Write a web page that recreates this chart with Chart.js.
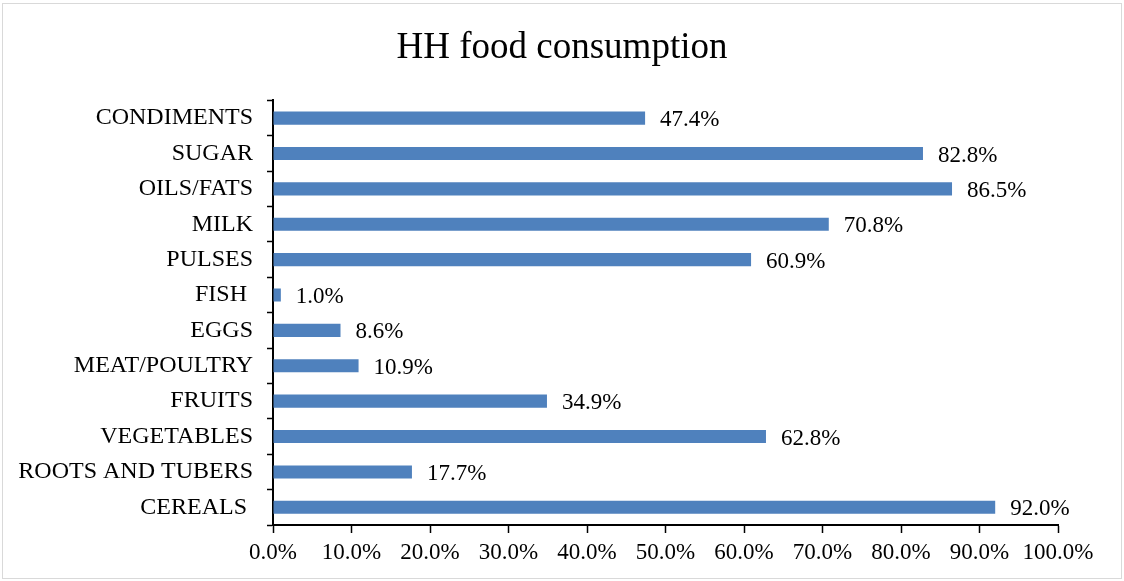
<!DOCTYPE html>
<html lang="en">
<head>
    <meta charset="UTF-8">
    <title>HH food consumption</title>
    <script src="https://cdn.jsdelivr.net/npm/chart.js"></script>
    <style>
        html, body {
            margin: 0;
            padding: 0;
            background: #fff;
        }
        canvas {
            display: block;
        }
    </style>
</head>
<body>
    <canvas id="chart" width="1124" height="581"></canvas>

    <script>
        // данные с картинки (сверху вниз)
        const categories = ["CONDIMENTS", "SUGAR", "OILS/FATS", "MILK", "PULSES", "FISH ", "EGGS",
            "MEAT/POULTRY", "FRUITS", "VEGETABLES", "ROOTS AND TUBERS", "CEREALS "];
        const shares = [47.4, 82.8, 86.5, 70.8, 60.9, 1.0, 8.6, 10.9, 34.9, 62.8, 17.7, 92.0];
        const xTicks = [0, 10, 20, 30, 40, 50, 60, 70, 80, 90, 100];

        const serif = "'Liberation Serif', 'Times New Roman', serif";

        // подписи значений справа от столбцов
        const valueLabels = {
            id: "valueLabels",
            afterDatasetsDraw(chart) {
                const ctx = chart.ctx;
                const meta = chart.getDatasetMeta(0);
                ctx.save();
                ctx.font = "23px " + serif;
                ctx.fillStyle = "#000";
                ctx.textAlign = "left";
                ctx.textBaseline = "middle";
                meta.data.forEach((bar, i) => {
                    ctx.fillText(shares[i].toFixed(1) + "%", bar.x + 15, bar.y + 2);
                });
                ctx.restore();
            }
        };

        // рамка + заголовок по центру всего холста
        const frame = {
            id: "frame",
            afterLayout(chart) {
                const t = chart.titleBlock;
                t.left = 0;
                t.right = chart.width;
                t.width = chart.width;
            },
            afterDraw(chart) {
                const ctx = chart.ctx;
                ctx.save();
                ctx.strokeStyle = "#d9d9d9";
                ctx.lineWidth = 1;
                ctx.strokeRect(2.5, 3.5, 1119, 575);
                ctx.restore();
            }
        };

        new Chart(document.getElementById("chart"), {
            type: "bar",
            data: {
                labels: categories,
                datasets: [{
                    data: shares,
                    backgroundColor: "#4f81bd",
                    categoryPercentage: 1,
                    barPercentage: 0.37
                }]
            },
            plugins: [valueLabels, frame],
            options: {
                indexAxis: "y",
                responsive: false,
                animation: false,
                devicePixelRatio: 1,
                layout: {padding: {left: 0, right: 66, top: 0, bottom: 0}},
                plugins: {
                    legend: {display: false},
                    tooltip: {enabled: false},
                    title: {
                        display: true,
                        text: "HH food consumption",
                        color: "#000",
                        font: {family: serif, size: 37, weight: "normal"},
                        padding: {top: 26, bottom: 30}
                    }
                },
                scales: {
                    x: {
                        min: 0,
                        max: 100,
                        afterBuildTicks(scale) {
                            scale.ticks = xTicks.map(v => ({value: v}));
                        },
                        afterFit(scale) {
                            scale.height = 56;
                        },
                        grid: {
                            drawOnChartArea: false,
                            drawTicks: true,
                            tickLength: 8,
                            tickColor: "#000",
                            tickWidth: 1.5
                        },
                        border: {color: "#000", width: 2},
                        ticks: {
                            color: "#000",
                            padding: 6,
                            maxRotation: 0,
                            font: {family: serif, size: 23},
                            callback: v => v.toFixed(1) + "%"
                        }
                    },
                    y: {
                        afterFit(scale) {
                            scale.width = 273;
                        },
                        grid: {
                            offset: true,
                            drawOnChartArea: false,
                            drawTicks: true,
                            tickLength: 6,
                            tickColor: "#000",
                            tickWidth: 1.5
                        },
                        border: {color: "#000", width: 2},
                        ticks: {
                            color: "#000",
                            padding: 14,
                            font: {family: serif, size: 24}
                        }
                    }
                }
            }
        });
    </script>
</body>
</html>
